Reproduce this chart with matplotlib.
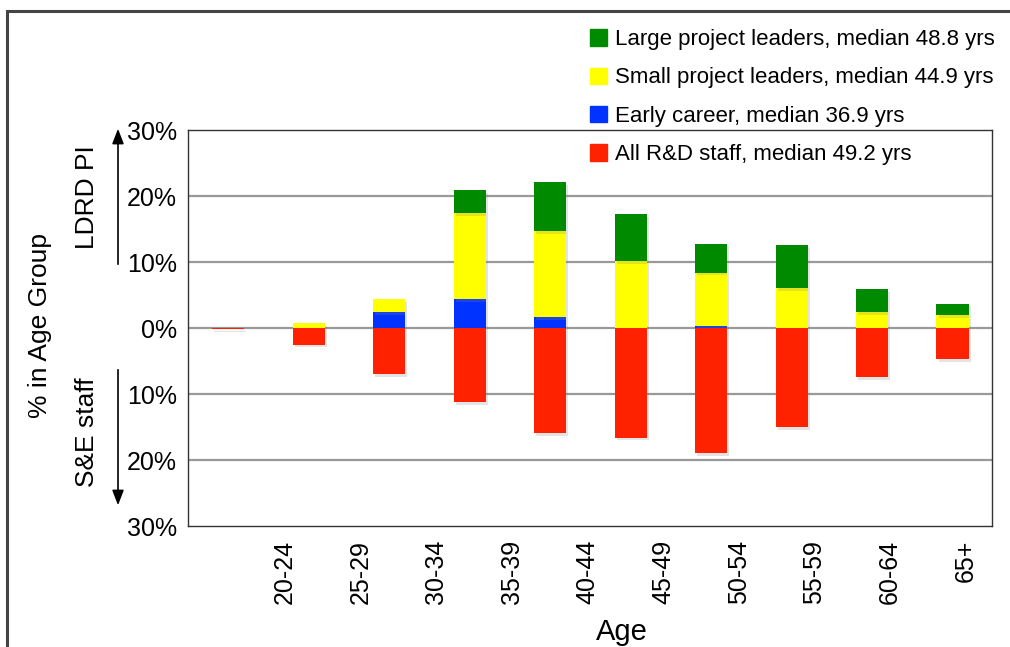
import matplotlib
matplotlib.use("Agg")
import matplotlib.pyplot as plt
import numpy as np
from matplotlib import patheffects as pe
from matplotlib.patches import Rectangle
from matplotlib.font_manager import fontManager

names = {f.name for f in fontManager.ttflist}
NARROW = "Liberation Sans Narrow" if "Liberation Sans Narrow" in names else "Liberation Sans"
SANS = "Liberation Sans"

age_groups = ["20-24", "25-29", "30-34", "35-39", "40-44", "45-49",
              "50-54", "55-59", "60-64", "65+"]
early_career = [0.0, 0.0, 2.4, 4.4, 1.7, 0.0, 0.3, 0.0, 0.0, 0.0]
small_leaders = [0.0, 0.7, 2.0, 13.0, 13.0, 10.1, 8.1, 6.0, 2.4, 1.9]
large_leaders = [0.0, 0.0, 0.0, 3.5, 7.4, 7.1, 4.4, 6.5, 3.5, 1.8]
all_staff = [0.2, 2.5, 7.0, 11.2, 15.9, 16.6, 19.0, 15.0, 7.4, 4.7]

legend_labels = ["Large project leaders, median 48.8 yrs",
                 "Small project leaders, median 44.9 yrs",
                 "Early career, median 36.9 yrs",
                 "All R&D staff, median 49.2 yrs"]
yticks = [-30, -20, -10, 0, 10, 20, 30]
ytick_labels = ["30%", "20%", "10%", "0%", "10%", "20%", "30%"]

c_green = "#008a00"
c_yellow = "#ffff00"
c_blue = "#0033ff"
c_red = "#ff2200"

W, H = 1010, 647
fig = plt.figure(figsize=(W / 100, H / 100), dpi=100)
ax = fig.add_axes([188 / W, 1 - 526 / H, (992 - 188) / W, (526 - 130) / H])

x = np.arange(len(age_groups))
early = np.array(early_career)
small = np.array(small_leaders)
large = np.array(large_leaders)
staff = np.array(all_staff)

shadow = [pe.SimplePatchShadow(offset=(1.5, -2), shadow_rgbFace="#888888", alpha=0.22), pe.Normal()]
bw = 0.4
b1 = ax.bar(x, early, bw, color=c_blue, zorder=3)
b2 = ax.bar(x, small, bw, bottom=early, color=c_yellow, zorder=3)
b3 = ax.bar(x, large, bw, bottom=early + small, color=c_green, zorder=3)
b4 = ax.bar(x, -staff, bw, color=c_red, zorder=3)
for bars in (b1, b2, b3, b4):
    for p in bars:
        p.set_path_effects(shadow)

ax.set_xlim(-0.5, 9.49)
ax.set_ylim(-30, 30)
ax.set_yticks(yticks)
ax.set_yticklabels(ytick_labels, fontsize=18, family=SANS)
ax.tick_params(axis="y", length=0, pad=8)
for yv in [-20, -10, 0, 10, 20]:
    ax.axhline(yv, color="#999999", lw=1.6, zorder=1)

label_pos = 0.708 + 0.939 * x
ax.set_xticks(label_pos)
ax.set_xticklabels(age_groups, rotation=90, fontsize=18, family=SANS)
ax.tick_params(axis="x", length=0, pad=10)

for s in ax.spines.values():
    s.set_color("#333333")
    s.set_linewidth(1.0)

# outer frame
fig.add_artist(Rectangle((7 / W, -0.1), 1.2, (H - 11) / H + 0.1, transform=fig.transFigure,
                         fill=False, edgecolor="#444444", lw=2.2))

# legend
handles = [Rectangle((0, 0), 1, 1, color=c) for c in (c_green, c_yellow, c_blue, c_red)]
fig.legend(handles, legend_labels, loc="upper left", bbox_to_anchor=(579 / W, 1 - 18 / H),
           frameon=False, handlelength=0.75, handleheight=0.75, handletextpad=0.35,
           labelspacing=0.78, borderpad=0, prop={"family": NARROW, "size": 16})

# left annotations
fig.text(40 / W, 1 - 325 / H, "% in Age Group", rotation=90, ha="center", va="center",
         fontsize=19, family=SANS)
fig.text(87 / W, 1 - 197 / H, "LDRD PI", rotation=90, ha="center", va="center",
         fontsize=19, family=SANS)
fig.text(87 / W, 1 - 432 / H, "S&E staff", rotation=90, ha="center", va="center",
         fontsize=19, family=SANS)
ax.annotate("", xy=(118, H - 126), xytext=(118, H - 267), xycoords="figure pixels",
            textcoords="figure pixels",
            arrowprops=dict(arrowstyle="-|>,head_length=0.9,head_width=0.35", color="black", lw=1.2))
ax.annotate("", xy=(118, H - 508), xytext=(118, H - 367), xycoords="figure pixels",
            textcoords="figure pixels",
            arrowprops=dict(arrowstyle="-|>,head_length=0.9,head_width=0.35", color="black", lw=1.2))

fig.text(622 / W, 1 - 632 / H, "Age", ha="center", va="center", fontsize=21, family=NARROW)

fig.savefig("out.png", dpi=100)
